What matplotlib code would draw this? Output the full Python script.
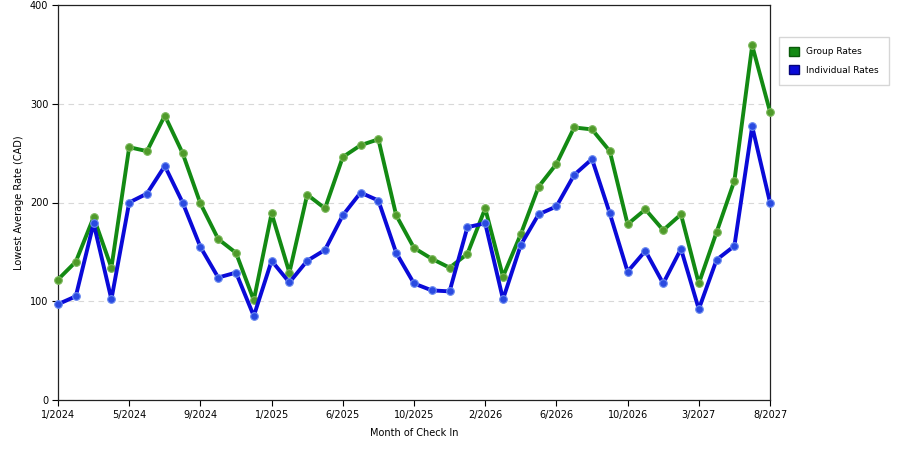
import matplotlib
matplotlib.use("Agg")
import matplotlib.pyplot as plt
from matplotlib.patches import Patch

tick_labels = ["1/2024", "5/2024", "9/2024", "1/2025", "6/2025", "10/2025",
               "2/2026", "6/2026", "10/2026", "3/2027", "8/2027"]

group_rates = [122, 140, 185, 134, 256, 252, 288, 250, 199, 163, 149, 101, 189,
               129, 208, 194, 246, 258, 264, 187, 154, 143, 134, 148, 194, 125,
               168, 216, 239, 276, 274, 252, 178, 193, 172, 188, 118, 170, 222,
               359, 292]
individual_rates = [97, 105, 179, 102, 200, 209, 237, 200, 155, 124, 129, 85, 141,
                    119, 141, 152, 187, 210, 202, 149, 118, 111, 110, 175, 179, 102,
                    157, 188, 196, 228, 244, 189, 130, 151, 118, 153, 92, 142, 156,
                    277, 200]

fig = plt.figure(figsize=(9, 4.5), dpi=100)
ax = fig.add_axes([58/900, 50/450, 712/900, 395/450])

x = list(range(len(group_rates)))
ax.plot(x, group_rates, color="#138a13", lw=2.8, marker="o", ms=5.5,
        mfc="#4f9a2a", mec="#7ab85a", mew=0.8, zorder=3, clip_on=False)
ax.plot(x, individual_rates, color="#0a0ad8", lw=2.8, marker="o", ms=5.5,
        mfc="#2a4ae0", mec="#6a8af0", mew=0.8, zorder=3, clip_on=False)

ax.set_xlim(0, len(x) - 1)
ax.set_ylim(0, 400)
ax.set_yticks([0, 100, 200, 300, 400])
ax.set_xticks(list(range(0, len(x), 4)))
ax.set_xticklabels(tick_labels)
ax.tick_params(direction="out", length=4, width=0.8, labelsize=7, colors="black", pad=3)
for s in ax.spines.values():
    s.set_linewidth(0.9)
    s.set_color("#222222")
ax.grid(axis="y", linestyle=(0, (5, 4)), color="#d8d8d8", lw=0.8)
ax.set_axisbelow(True)

ax.set_xlabel("Month of Check In", fontsize=7, labelpad=6)
ax.set_ylabel("Lowest Average Rate (CAD)", fontsize=7, labelpad=4)

handles = [Patch(facecolor="#138a13", edgecolor="#0a5a0a", label="Group Rates"),
           Patch(facecolor="#0a0ad8", edgecolor="#05057a", label="Individual Rates")]
leg = fig.legend(handles=handles, loc="upper left", bbox_to_anchor=(779/900, 1 - 37/450),
                 fontsize=6.5, frameon=True, fancybox=False, edgecolor="#cccccc",
                 handlelength=1.1, handleheight=1.1, borderpad=1.1, labelspacing=1.0,
                 handletextpad=0.8, borderaxespad=0)

fig.savefig("out.png", dpi=100)
